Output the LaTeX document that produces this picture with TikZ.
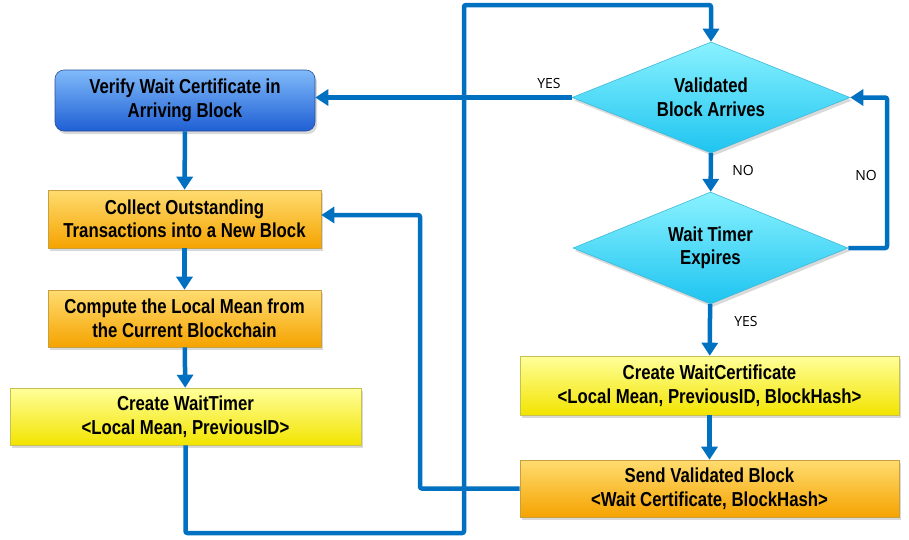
\documentclass[tikz,border=0pt]{standalone}
\usepackage{fontspec}
\setmainfont{Liberation Sans}[FakeStretch=0.83]
\newfontfamily\labfont{Open Sans}
\usetikzlibrary{shapes.geometric,arrows.meta,shadows}
\definecolor{linkblue}{HTML}{0070C0}
\definecolor{bluetop}{HTML}{80BAFA}
\definecolor{bluebot}{HTML}{1F5FD4}
\definecolor{blueedge}{HTML}{2A4F9A}
\definecolor{orgtop}{HTML}{FFDC70}
\definecolor{orgbot}{HTML}{F5A300}
\definecolor{orgedge}{HTML}{C8A040}
\definecolor{yeltop}{HTML}{FFFF9A}
\definecolor{yelbot}{HTML}{F2E400}
\definecolor{yeledge}{HTML}{C8C050}
\definecolor{diatop}{HTML}{8AF2FF}
\definecolor{diabot}{HTML}{1EC4F0}
\definecolor{diaedge}{HTML}{40B8D8}
\begin{document}
\begin{tikzpicture}[x=1pt,y=-1pt,
  boxbase/.style={draw, line width=0.6pt, align=center, inner sep=0pt,
    font=\fontsize{20.2}{23.5}\selectfont\bfseries,
    drop shadow={opacity=0.3,shadow xshift=2pt,shadow yshift=-3pt}},
  bluebox/.style={boxbase, rounded corners=9pt, draw=blueedge, top color=bluetop, bottom color=bluebot},
  orgbox/.style={boxbase, draw=orgedge, top color=orgtop, bottom color=orgbot},
  yelbox/.style={boxbase, draw=yeledge, top color=yeltop, bottom color=yelbot},
  decbox/.style={boxbase, diamond, aspect=2.5, draw=diaedge, top color=diatop, bottom color=diabot},
  conn/.style={draw=linkblue, line width=4.5pt, -{Triangle[length=13pt,width=16pt]}},
  lab/.style={font=\labfont\fontsize{14}{16}\selectfont, inner sep=0pt}
]
\useasboundingbox (0,0) rectangle (909,539);
\node[bluebox, minimum width=260pt, minimum height=61pt] (b1) at (185,100.5) {Verify Wait Certificate in\\Arriving Block};
\node[orgbox, minimum width=273pt, minimum height=58pt] (o1) at (184.5,219) {Collect Outstanding\\Transactions into a New Block};
\node[orgbox, minimum width=273pt, minimum height=57pt] (o2) at (184.5,318.5) {Compute the Local Mean from\\the Current Blockchain};
\node[yelbox, minimum width=351pt, minimum height=57pt] (y1) at (185.5,416.5) {Create WaitTimer\\\textless Local Mean, PreviousID\textgreater};
\node[decbox, minimum width=278pt, minimum height=111pt] (d1) at (711,97.5) {Validated\\Block Arrives};
\node[decbox, minimum width=275pt, minimum height=112pt] (d2) at (710.5,248) {Wait Timer\\Expires};
\node[yelbox, minimum width=379pt, minimum height=59pt] (y2) at (709.5,385.5) {Create WaitCertificate\\\textless Local Mean, PreviousID, BlockHash\textgreater};
\node[orgbox, minimum width=379pt, minimum height=57pt] (o3) at (709.5,488.5) {Send Validated Block\\\textless Wait Certificate, BlockHash\textgreater};

\coordinate (c1) at (464,533);
\coordinate (c2) at (464,5);
\coordinate (c3) at (887,97.5);
\coordinate (c4) at (420,215);

\draw[conn] (b1) -- (o1);
\draw[conn] (o1) -- (o2);
\draw[conn] (o2) -- (y1);
\draw[conn, rounded corners=2pt] (y1.south) |- (c1) -- (c2) -| (d1.north);
\draw[conn] (d1.west) -- (d1.west -| b1.east);
\draw[conn] (d1) -- (d2);
\draw[conn, rounded corners=2pt] (d2.east) -| (c3) -- (d1.east);
\draw[conn] (d2) -- (y2);
\draw[conn] (y2) -- (o3);
\draw[conn, rounded corners=2pt] (o3.west) -| (c4) -- (c4 -| o1.east);

\node[lab] (l1) at (549,83) {YES};
\node[lab] (l2) at (743,170) {NO};
\node[lab] (l3) at (866,175) {NO};
\node[lab] (l4) at (746,321) {YES};
\end{tikzpicture}
\end{document}
